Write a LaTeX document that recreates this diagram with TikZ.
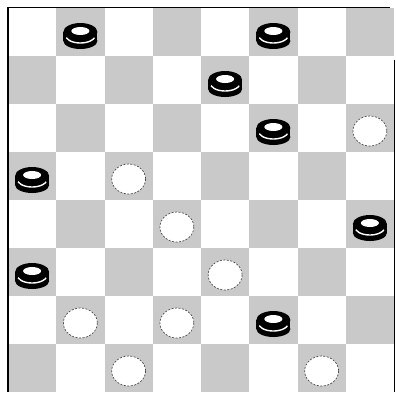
\documentclass[tikz,border=0pt]{standalone}
\tikzset{
  darksq/.style={fill=black!21, draw=none},
  bpiece/.pic={
    \fill[black] (0,5) ellipse[x radius=17, y radius=8];
    \fill[black] (-17,-4) rectangle (17,5);
    \fill[black] (0,-4) ellipse[x radius=17, y radius=9];
    \draw[white, line width=1.4] (0,-1) ++(160:15 and 8) arc[start angle=160,end angle=20,x radius=15,y radius=8];
    \fill[white] (0,-5) ellipse[x radius=9, y radius=4];
  },
  wpiece/.pic={
    \fill[white] (0,0) ellipse[x radius=17, y radius=15];
    \draw[black!70, dash pattern=on 2pt off 1.5pt, line width=0.7] (0,0) ellipse[x radius=17, y radius=15];
  }
}
\begin{document}
\begin{tikzpicture}[x=1pt,y=-1pt]
\useasboundingbox (0,0) rectangle (396,392);
\fill[white] (0,0) rectangle (396,392);
\foreach \r in {0,...,7}{
  \foreach \c in {0,...,7}{
    \pgfmathtruncatemacro{\odd}{mod(\r+\c,2)}
    \ifnum\odd=1
      \fill[darksq] ({8+\c*48.25},{8+\r*48}) rectangle ({8+(\c+1)*48.25},{8+(\r+1)*48});
    \fi
  }
}
\draw[line width=2] (8,7) -- (8,392);
\draw[line width=1] (8,7) -- (390,7);
\draw[line width=1] (394,60) -- (394,392);
% black pieces (col,row)
\foreach \c/\r in {1/0,5/0,4/1,5/2,0/3,7/4,0/5,5/6}{
  \pic at ({8+(\c+0.5)*48.25},{8+(\r+0.5)*48+4}) {bpiece};
}
% white pieces
\foreach \c/\r in {7/2,2/3,3/4,4/5,1/6,3/6,2/7,6/7}{
  \pic at ({8+(\c+0.5)*48.25},{8+(\r+0.5)*48+3}) {wpiece};
}
\end{tikzpicture}
\end{document}
